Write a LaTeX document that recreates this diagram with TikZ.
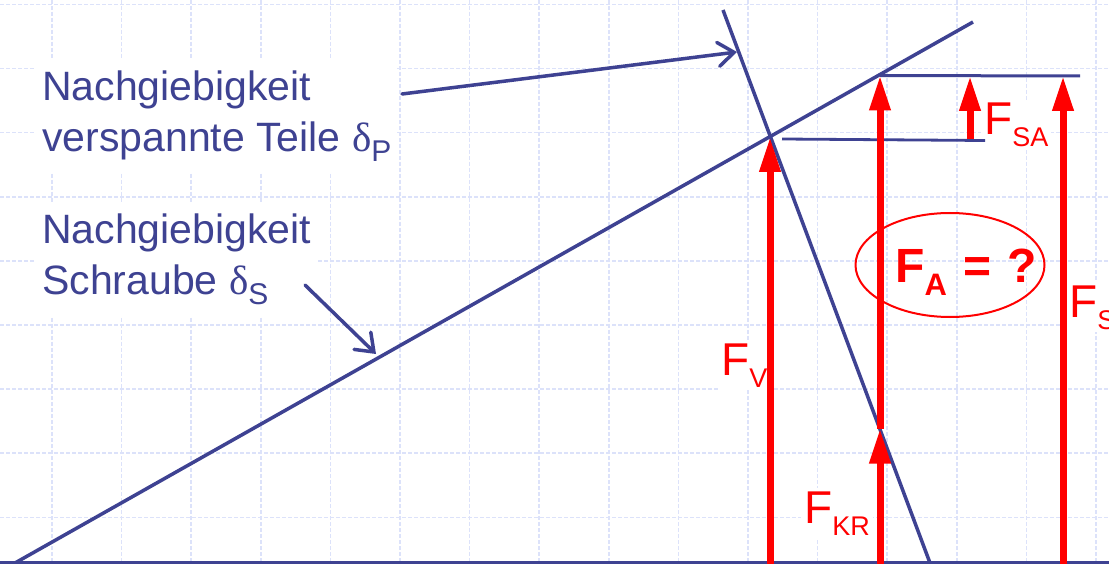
\documentclass[tikz,border=0pt]{standalone}
\usepackage{fontspec}
\setmainfont{Liberation Sans}
\newfontfamily\grfont{Liberation Serif}
\usetikzlibrary{arrows.meta,shapes.geometric}
\definecolor{navy}{RGB}{62,66,146}
\definecolor{gridc}{RGB}{220,226,250}
\definecolor{fred}{RGB}{255,0,0}
\newcommand{\bsub}[1]{\raisebox{-10pt}{\fontsize{30}{30}\selectfont #1}}
\newcommand{\rsub}[1]{\raisebox{-12pt}{\fontsize{27}{27}\selectfont #1}}
\newcommand{\rbsub}[1]{\raisebox{-13pt}{\fontsize{31}{31}\selectfont #1}}
\begin{document}
\begin{tikzpicture}[x=1pt,y=-1pt,
  gridline/.style={gridc, line width=1.6pt, dash pattern=on 4pt off 2pt},
  blueline/.style={navy, line width=3.5pt},
  bluearrow/.style={navy, line width=3.5pt, line cap=round,
    -{Straight Barb[length=16pt,width=24pt,line cap=round]}},
  force/.style={fred, line width=7pt, -{Triangle[length=35pt,width=20pt]}},
  bluetext/.style={text=navy, font=\fontsize{41}{51}\selectfont, fill=white,
    inner sep=6pt, anchor=base west},
  redtext/.style={text=fred, font=\fontsize{46}{46}\selectfont, fill=white,
    inner sep=3pt, anchor=base west},
]
\useasboundingbox (0,0) rectangle (1109,564);
\clip (0,0) rectangle (1109,564);
\fill[white] (0,0) rectangle (1109,564);
% grid
\foreach \k in {0,...,15}{
  \draw[gridline] ({52+69.6*\k},0) -- ({52+69.6*\k},564);
}
\foreach \k in {0,...,8}{
  \draw[gridline] (0,{4.5+64.1*\k}) -- (1109,{4.5+64.1*\k});
}
% labels
\node[bluetext] (lp) at (36,101) {\begin{tabular}[t]{@{}l@{}}Nachgiebigkeit\\verspannte Teile {\grfont δ}\bsub{P}\end{tabular}};
\node[bluetext] (ls) at (36,244) {\begin{tabular}[t]{@{}l@{}}Nachgiebigkeit\\Schraube {\grfont δ}\bsub{S}\end{tabular}};
\node[redtext] (fsa) at (981,135) {F\rsub{SA}};
\node[redtext] (fv) at (718,375) {F\rsub{V}};
\node[redtext] (fkr) at (801,523) {F\rsub{KR}};
\node[redtext] (fs) at (1066,317) {F\rsub{S}};
\node[text=fred, font=\fontsize{48}{48}\selectfont\bfseries, inner sep=0pt, anchor=base west] (fa) at (895,283) {F\rbsub{A}\hspace{3pt} = \hspace{3pt}?};
\node[ellipse, draw=fred, line width=2pt, minimum width=189pt, minimum height=104pt, inner sep=0pt] (ell) at (950,265) {};
% coordinates
\coordinate (b0) at (15,563);
\coordinate (b1) at (973,22);
\coordinate (p0) at (723,10);
\coordinate (p1) at (930,563);
\coordinate (V) at (770,137);
\coordinate (A) at (880,75.5);
\coordinate (K) at (880,428.5);
\coordinate (h1a) at (782,139);
\coordinate (h1b) at (985,140.5);
\coordinate (h2b) at (1080,76);
\coordinate (sa0) at (970,139.5);
\coordinate (sa1) at (970,76);
\coordinate (v0) at (770,564);
\coordinate (k0) at (880,564);
\coordinate (s0) at (1063,564);
\coordinate (s1) at (1063,76);
\coordinate (ax0) at (0,562.5);
\coordinate (ax1) at (1109,562.5);
\coordinate (a1s) at (402,94);
\coordinate (a1e) at (737,52);
\coordinate (a2s) at (305,285);
\coordinate (a2e) at (376,354);
% blue lines
\draw[navy, line width=2.5pt] (ax0) -- (ax1);
\draw[blueline] (b0) -- (b1);
\draw[blueline] (p0) -- (p1);
\draw[navy, line width=2.8pt] (h1a) -- (h1b);
\draw[navy, line width=3pt] (A) -- (h2b);
\draw[bluearrow] (a1s) -- (a1e);
\draw[bluearrow] (a2s) -- (a2e);
% forces
\draw[force] (v0) -- (V);
\draw[force] (K) -- (A);
\draw[force] (k0) -- (K);
\draw[force] (sa0) -- (sa1);
\draw[force] (s0) -- (s1);
\end{tikzpicture}
\end{document}
